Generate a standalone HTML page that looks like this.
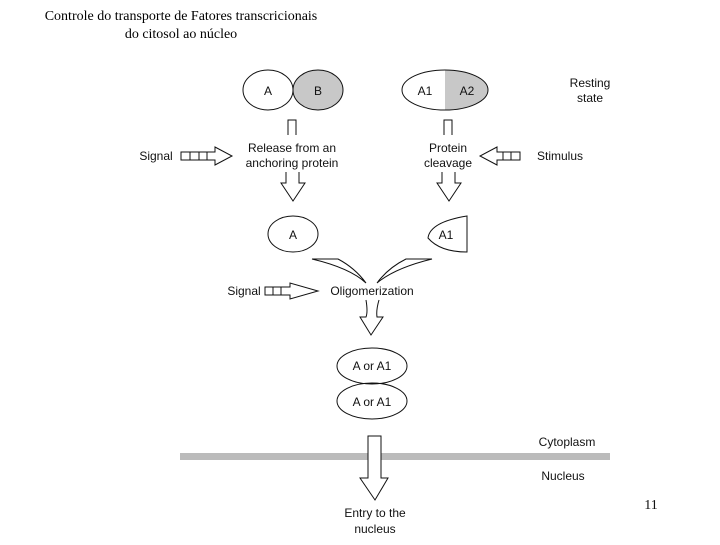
<!DOCTYPE html>
<html><head><style>body{margin:0;background:#fff;width:720px;height:540px;overflow:hidden}</style></head><body>
<svg width="720" height="540" xmlns="http://www.w3.org/2000/svg" font-family="Liberation Sans, sans-serif" font-size="12" fill="none" stroke="#111" stroke-width="1">
<text x="181" y="20" text-anchor="middle" font-family="Liberation Serif, serif" font-size="14" fill="#000" stroke="none">Controle do transporte de  Fatores transcricionais</text>
<text x="181" y="38" text-anchor="middle" font-family="Liberation Serif, serif" font-size="14" fill="#000" stroke="none">do citosol ao núcleo</text>
<ellipse cx="318" cy="90" rx="25" ry="20" fill="#c8c8c8"/>
<ellipse cx="268" cy="90" rx="25" ry="20" fill="#fff"/>
<path d="M445 70 A43 20 0 0 1 445 110 Z" fill="#c8c8c8" stroke="none"/>
<ellipse cx="445" cy="90" rx="43" ry="20"/>
<g fill="#111" stroke="none" text-anchor="middle">
<text x="268" y="95">A</text><text x="318" y="95">B</text><text x="425" y="95">A1</text><text x="467" y="95">A2</text>
<text x="590" y="87">Resting</text><text x="590" y="102">state</text>
<text x="292" y="152">Release from an</text><text x="292" y="167">anchoring protein</text>
<text x="448" y="152">Protein</text><text x="448" y="167">cleavage</text>
<text x="156" y="160">Signal</text><text x="560" y="160">Stimulus</text>
<text x="293" y="239">A</text><text x="446" y="239">A1</text>
<text x="372" y="295">Oligomerization</text><text x="244" y="295">Signal</text>
<text x="372" y="370">A or A1</text><text x="372" y="406">A or A1</text>
<text x="567" y="446">Cytoplasm</text><text x="563" y="480">Nucleus</text>
<text x="375" y="517">Entry to the</text><text x="375" y="533">nucleus</text>
<text x="651" y="509" font-family="Liberation Serif, serif" font-size="14">11</text>
</g>
<path d="M288 135 V120 H296 V135"/><path d="M444 135 V120 H452 V135"/>
<path d="M286 172 V183 H281 L293 201 L305 183 H299 V172"/>
<path d="M442 172 V183 H437 L449 201 L461 183 H455 V172"/>
<path d="M181 152 H215 V147 L232 156 L215 165 V160 H181 Z M190 152 V160 M199 152 V160 M207 152 V160"/>
<path d="M520 152 H497 V147 L480 156 L497 165 V160 H520 Z M511 152 V160 M503 152 V160"/>
<ellipse cx="293" cy="234" rx="25" ry="18"/>
<path d="M467 216 V252 Q440 252 428 238 Q430 222 467 216 Z"/>
<path d="M312 259 H338 Q355 268 366 283 Q350 268 312 259 Z"/>
<path d="M432 259 H406 Q388 268 377 283 Q395 268 432 259 Z"/>
<path d="M265 287 H290 V283 L318 291 L290 299 V295 H265 Z M273 287 V295 M281 287 V295"/>
<path d="M366 300 Q368 312 366 317 H360 L371 335 L383 317 H377 Q376 310 379 300"/>
<ellipse cx="372" cy="366" rx="35" ry="18"/>
<ellipse cx="372" cy="401" rx="35" ry="18"/>
<rect x="180" y="453" width="430" height="7" fill="#bbb" stroke="none"/>
<path d="M368 436 H381 V478 H388 L375 500 L360 478 H368 Z" fill="#fff"/>
</svg>
</body></html>
